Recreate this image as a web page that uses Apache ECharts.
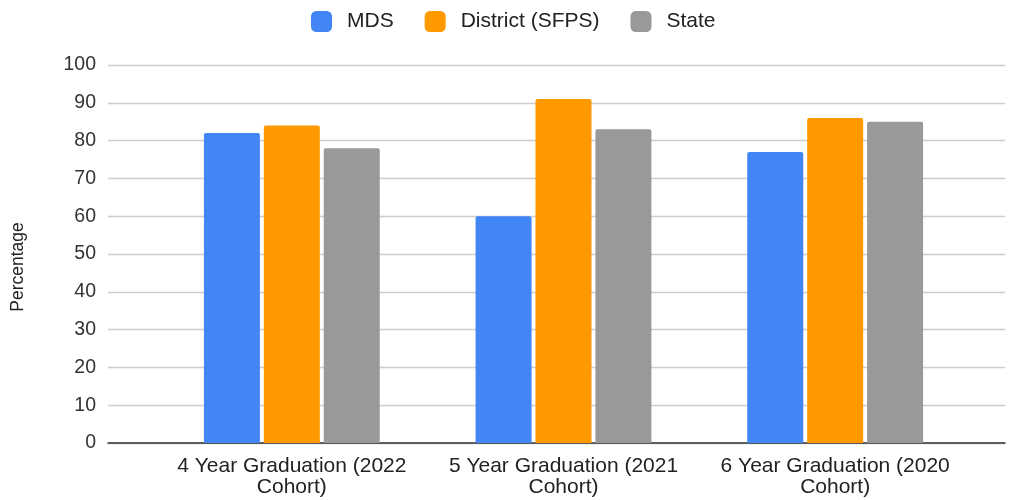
<!DOCTYPE html>
<html><head><meta charset="utf-8">
<script src="https://cdn.jsdelivr.net/npm/echarts@6/dist/echarts.min.js"></script>
<style>html,body{margin:0;padding:0;background:#fff}#c{width:1009px;height:500px}</style>
</head><body><div id="c"></div>
<script>
const categories = ['4 Year Graduation (2022\nCohort)', '5 Year Graduation (2021\nCohort)', '6 Year Graduation (2020\nCohort)'];
const seriesNames = ['MDS', 'District (SFPS)', 'State'];
const mds = [82, 60, 77];
const district = [84, 91, 86];
const state = [78, 83, 85];
const colors = ['#4285F4', '#FF9900', '#999999'];

const font = 'Liberation Sans, Arial, sans-serif';
const chart = echarts.init(document.getElementById('c'));
const mk = (name, data, color) => ({
  name, type: 'bar', data, xAxisIndex: 1, yAxisIndex: 1,
  barWidth: 56, barGap: '7%',
  itemStyle: { color, borderRadius: [2, 2, 0, 0] }
});
chart.setOption({
  animation: false,
  textStyle: { fontFamily: font },
  legend: {
    top: 6, left: 306, itemWidth: 21, itemHeight: 21, itemGap: 31,
    icon: 'roundRect',
    textStyle: { fontSize: 21, color: '#222', fontFamily: font, padding: [0, 0, 0, 10] },
    data: seriesNames
  },
  grid: [
    { left: 108, right: 4, top: 65, bottom: 57 },
    { left: 156, right: 38, top: 65, bottom: 57 }
  ],
  xAxis: [
    { type: 'category', gridIndex: 0, data: [''], axisLine: { lineStyle: { color: '#333', width: 1.5 } }, axisTick: { show: false }, axisLabel: { show: false } },
    { type: 'category', gridIndex: 1, data: categories, axisLine: { show: false }, axisTick: { show: false },
      axisLabel: { interval: 0, hideOverlap: false, fontSize: 21, color: '#222', lineHeight: 21, margin: 13, fontFamily: font } }
  ],
  yAxis: [
    { type: 'value', gridIndex: 0, min: 0, max: 100, interval: 10,
      name: 'Percentage', nameLocation: 'middle', nameGap: 81, nameRotate: 90,
      nameTextStyle: { fontSize: 17.5, color: '#222', fontFamily: font, padding: [0, 26, 0, 0] },
      axisLine: { show: false }, axisTick: { show: false },
      axisLabel: { fontSize: 19.5, color: '#333', margin: 12, fontFamily: font },
      splitLine: { lineStyle: { color: '#cccccc', width: 1.3 } } },
    { type: 'value', gridIndex: 1, min: 0, max: 100, interval: 10, show: false, splitLine: { show: false } }
  ],
  series: [mk(seriesNames[0], mds, colors[0]), mk(seriesNames[1], district, colors[1]), mk(seriesNames[2], state, colors[2])]
});
</script></body></html>
